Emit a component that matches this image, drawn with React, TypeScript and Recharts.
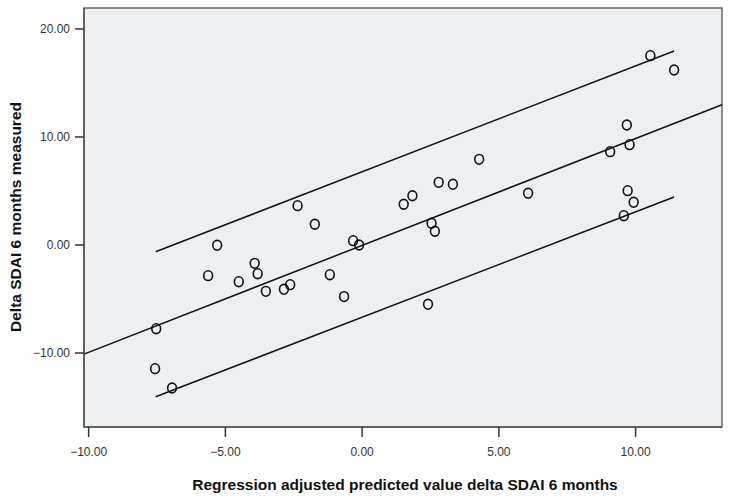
import React from "react";
import {
  ComposedChart,
  Scatter,
  XAxis,
  YAxis,
  ReferenceArea,
  ReferenceLine,
} from "recharts";

const predicted = [
  -2.36, -1.73, -5.3, -5.63, -3.93, -3.82, -4.51, -3.52, -2.86, -2.63, -7.53, -7.57, -6.95,
  4.28, 2.8, 3.32, 1.84, 1.52, 2.54, 2.66, -0.33, -0.11, -1.18, -0.66, 2.41,
  9.68, 9.07, 9.78, 6.07, 9.71, 9.93, 9.57, 10.54, 11.41,
];
const measured = [
  3.64, 1.92, -0.03, -2.84, -1.7, -2.66, -3.4, -4.29, -4.1, -3.67, -7.75, -11.45, -13.24,
  7.93, 5.8, 5.62, 4.56, 3.77, 2.01, 1.27, 0.4, 0.0, -2.75, -4.78, -5.49,
  11.11, 8.64, 9.29, 4.79, 5.03, 3.95, 2.71, 17.53, 16.2,
];

const xDomain: [number, number] = [-10.17, 13.16];
const yDomain: [number, number] = [-16.85, 21.94];
const xTicks = [-10, -5, 0, 5, 10];
const yTicks = [-10, 0, 10, 20];

const fitLine = [
  { x: -10.17, y: -10.1 },
  { x: 13.16, y: 12.98 },
];
const upperLine = [
  { x: -7.55, y: -0.62 },
  { x: 11.41, y: 17.96 },
];
const lowerLine = [
  { x: -7.55, y: -14.05 },
  { x: 11.41, y: 4.44 },
];

const points = predicted.map((x, i) => ({ x, y: measured[i] }));

const fmt = (v: number) => {
  const s = Math.abs(v).toFixed(2);
  return v < 0 ? "\u2212" + s : s;
};

const OpenCircle = (props: any) => {
  const { cx, cy } = props;
  if (cx == null || cy == null) return <g />;
  return (
    <ellipse cx={cx} cy={cy} rx={4.4} ry={4.9} fill="none" stroke="#111" strokeWidth={1.6} />
  );
};

const tickStyle = {
  fontFamily: "Arial, 'Liberation Sans', sans-serif",
  fontSize: 12,
  fill: "#333",
};

const titleStyle = {
  fontFamily: "Arial, 'Liberation Sans', sans-serif",
  fontSize: 15.5,
  fontWeight: "bold" as const,
  fill: "#111",
};

export default function App() {
  return (
    <div style={{ position: "absolute", left: 0, top: 0, width: 731, height: 500, background: "#fff" }}>
      <ComposedChart
        width={731}
        height={500}
        margin={{ top: 8, right: 9, left: 0, bottom: 0 }}
      >
        <XAxis
          type="number"
          dataKey="x"
          domain={xDomain}
          ticks={xTicks}
          allowDataOverflow
          tickFormatter={fmt}
          height={73}
          tickSize={10}
          tickMargin={10}
          tick={tickStyle}
          axisLine={{ stroke: "#555", strokeWidth: 1.5 }}
          tickLine={{ stroke: "#333", strokeWidth: 1.5 }}
        />
        <YAxis
          type="number"
          dataKey="y"
          domain={yDomain}
          ticks={yTicks}
          allowDataOverflow
          tickFormatter={fmt}
          width={84}
          tickSize={9}
          tickMargin={5}
          tick={tickStyle}
          axisLine={{ stroke: "#555", strokeWidth: 1.5 }}
          tickLine={{ stroke: "#333", strokeWidth: 1.5 }}
        />
        <ReferenceArea
          x1={xDomain[0]}
          x2={xDomain[1]}
          y1={yDomain[0]}
          y2={yDomain[1]}
          fill="#EEEFF1"
          fillOpacity={1}
          stroke="#666"
          strokeWidth={1.5}
          ifOverflow="visible"
        />
        <ReferenceLine segment={fitLine} stroke="#111" strokeWidth={1.5} ifOverflow="visible" />
        <ReferenceLine segment={upperLine} stroke="#111" strokeWidth={1.5} ifOverflow="visible" />
        <ReferenceLine segment={lowerLine} stroke="#111" strokeWidth={1.5} ifOverflow="visible" />
        <Scatter data={points} shape={<OpenCircle />} isAnimationActive={false} />
        <text x={405} y={490} textAnchor="middle" style={titleStyle}>
          Regression adjusted predicted value delta SDAI 6 months
        </text>
        <text x={21} y={217} textAnchor="middle" transform="rotate(-90 21 217)" style={titleStyle}>
          Delta SDAI 6 months measured
        </text>
      </ComposedChart>
    </div>
  );
}
